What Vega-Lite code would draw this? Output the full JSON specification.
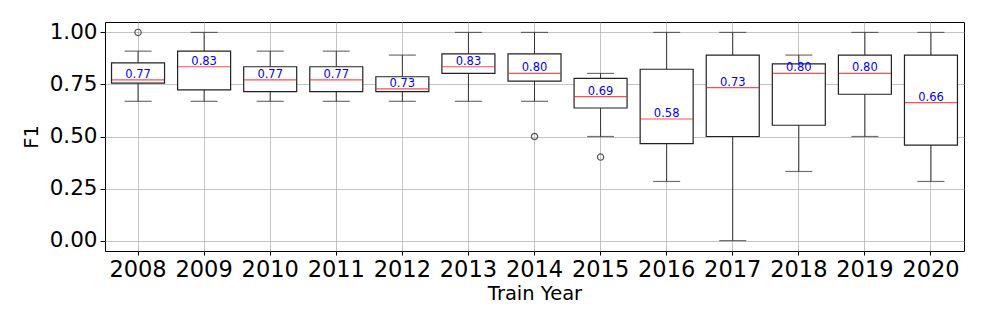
{
  "$schema": "https://vega.github.io/schema/vega-lite/v6.json",
  "width": 859,
  "height": 229,
  "autosize": {"type": "none"},
  "padding": {"left": 105, "top": 22, "right": 23, "bottom": 78},
  "background": "white",
  "config": {
    "font": "DejaVu Sans",
    "view": {"stroke": "black", "strokeWidth": 1},
    "axis": {"gridColor": "#b0b0b0", "gridOpacity": 0.75, "gridWidth": 1, "domain": false, "tickColor": "black", "labelColor": "black", "titleColor": "black", "titleFontWeight": "normal"}
  },
  "datasets": {
    "boxes": [
      {"year": "2008", "lo": 0.669, "q1": 0.756, "median": 0.772, "q3": 0.854, "hi": 0.91, "label": "0.77"},
      {"year": "2009", "lo": 0.669, "q1": 0.724, "median": 0.835, "q3": 0.91, "hi": 1.0, "label": "0.83"},
      {"year": "2010", "lo": 0.669, "q1": 0.716, "median": 0.772, "q3": 0.835, "hi": 0.91, "label": "0.77"},
      {"year": "2011", "lo": 0.669, "q1": 0.716, "median": 0.772, "q3": 0.835, "hi": 0.91, "label": "0.77"},
      {"year": "2012", "lo": 0.669, "q1": 0.716, "median": 0.729, "q3": 0.787, "hi": 0.891, "label": "0.73"},
      {"year": "2013", "lo": 0.669, "q1": 0.803, "median": 0.835, "q3": 0.897, "hi": 1.0, "label": "0.83"},
      {"year": "2014", "lo": 0.669, "q1": 0.766, "median": 0.803, "q3": 0.897, "hi": 1.0, "label": "0.80"},
      {"year": "2015", "lo": 0.5, "q1": 0.637, "median": 0.692, "q3": 0.779, "hi": 0.803, "label": "0.69"},
      {"year": "2016", "lo": 0.284, "q1": 0.466, "median": 0.584, "q3": 0.823, "hi": 1.0, "label": "0.58"},
      {"year": "2017", "lo": 0.0, "q1": 0.5, "median": 0.735, "q3": 0.891, "hi": 1.0, "label": "0.73"},
      {"year": "2018", "lo": 0.332, "q1": 0.554, "median": 0.803, "q3": 0.849, "hi": 0.891, "label": "0.80"},
      {"year": "2019", "lo": 0.5, "q1": 0.703, "median": 0.803, "q3": 0.891, "hi": 1.0, "label": "0.80"},
      {"year": "2020", "lo": 0.284, "q1": 0.459, "median": 0.663, "q3": 0.891, "hi": 1.0, "label": "0.66"}
    ],
    "outliers": [
      {"year": "2008", "value": 1.0},
      {"year": "2014", "value": 0.5},
      {"year": "2015", "value": 0.401}
    ]
  },
  "encoding": {
    "x": {
      "field": "year", "type": "ordinal",
      "scale": {"paddingInner": 0, "paddingOuter": 0},
      "axis": {"title": "Train Year", "labelAngle": 0, "labelFontSize": 22.5, "titleFontSize": 19.5, "bandPosition": 0.5, "grid": true, "tickSize": 4, "labelPadding": 3, "titlePadding": 4}
    }
  },
  "layer": [
    {
      "data": {"name": "boxes"},
      "mark": {"type": "rule", "color": "#333333", "strokeWidth": 1},
      "encoding": {
        "y": {"field": "lo", "type": "quantitative", "scale": {"domain": [-0.05, 1.05], "nice": false, "zero": false},
          "axis": {"title": "F1", "values": [0, 0.25, 0.5, 0.75, 1], "format": ".2f", "labelFontSize": 21.5, "titleFontSize": 19.5, "grid": true, "tickSize": 5, "labelPadding": 3, "titlePadding": 8}},
        "y2": {"field": "q1"}
      }
    },
    {
      "data": {"name": "boxes"},
      "mark": {"type": "rule", "color": "#333333", "strokeWidth": 1},
      "encoding": {"y": {"field": "q3", "type": "quantitative"}, "y2": {"field": "hi"}}
    },
    {
      "data": {"name": "boxes"},
      "mark": {"type": "tick", "color": "#333333", "size": 27, "thickness": 1.2},
      "encoding": {"y": {"field": "lo", "type": "quantitative"}}
    },
    {
      "data": {"name": "boxes"},
      "mark": {"type": "tick", "color": "#333333", "size": 27, "thickness": 1.2},
      "encoding": {"y": {"field": "hi", "type": "quantitative"}}
    },
    {
      "data": {"name": "boxes"},
      "mark": {"type": "bar", "fill": "white", "stroke": "#222222", "strokeWidth": 1.2, "width": 53},
      "encoding": {"y": {"field": "q1", "type": "quantitative"}, "y2": {"field": "q3"}}
    },
    {
      "data": {"name": "boxes"},
      "mark": {"type": "tick", "color": "red", "size": 52, "thickness": 1.2},
      "encoding": {"y": {"field": "median", "type": "quantitative"}}
    },
    {
      "data": {"name": "outliers"},
      "mark": {"type": "point", "shape": "circle", "filled": false, "stroke": "#555555", "strokeWidth": 1.2, "size": 40, "opacity": 1},
      "encoding": {"y": {"field": "value", "type": "quantitative"}}
    },
    {
      "data": {"name": "boxes"},
      "mark": {"type": "text", "color": "blue", "fontSize": 11.5, "baseline": "bottom", "dy": 0},
      "encoding": {"y": {"field": "median", "type": "quantitative"}, "text": {"field": "label"}}
    }
  ]
}
